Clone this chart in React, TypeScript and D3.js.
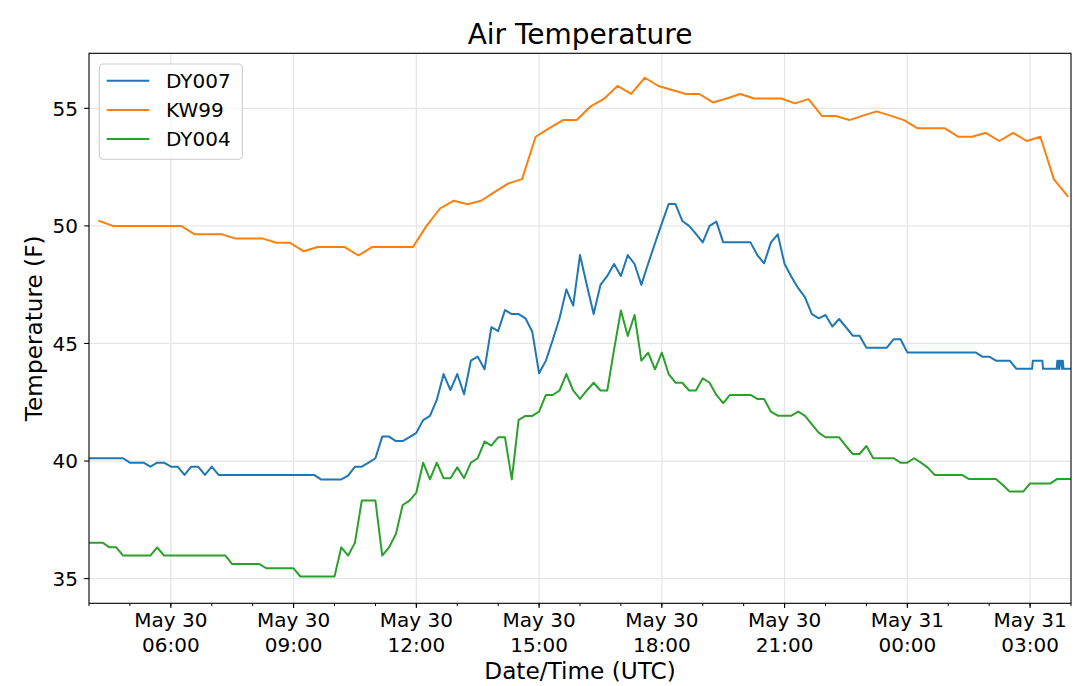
import React from 'react';
import * as d3 from 'd3';

const START = Date.UTC(2019, 4, 30, 4, 0);
const END = Date.UTC(2019, 4, 31, 4, 0);
const MINUTE = 60000;

const SERIES_NAMES = ['DY007', 'KW99', 'DY004'];
const SERIES_COLORS = ['#1f77b4', '#ff7f0e', '#2ca02c'];

// DY007: 10-minute readings from 04:00 UTC
const DY007_10MIN = [
  40.12, 40.12, 40.12, 40.12, 40.12, 40.12,
  39.93, 39.93, 39.93,
  39.76,
  39.93, 39.93,
  39.76, 39.76,
  39.41,
  39.76, 39.76,
  39.41,
  39.76,
  39.41, 39.41, 39.41, 39.41, 39.41, 39.41, 39.41, 39.41, 39.41, 39.41, 39.41, 39.41, 39.41, 39.41, 39.41,
  39.22, 39.22, 39.22, 39.22,
  39.38,
  39.76, 39.76,
  39.93,
  40.12,
  41.04, 41.04,
  40.85, 40.85,
  41.02, 41.2, 41.74, 41.92, 42.6,
  43.7, 43.02, 43.7, 42.84, 44.27, 44.44, 43.9, 45.69, 45.53, 46.42,
  46.25, 46.25, 46.07, 45.5, 43.73, 44.27, 45.15, 46.07, 47.3, 46.61,
  48.76, 47.49, 46.25, 47.49, 47.87, 48.38, 47.87, 48.76, 48.38, 47.49,
  48.4, 49.26, 50.11, 50.93, 50.93, 50.21, 50.0, 49.66, 49.3, 50.0,
  50.18, 49.3, 49.3, 49.3, 49.3, 49.3, 48.76, 48.41, 49.3, 49.64,
  48.38, 47.84, 47.35, 46.96, 46.25, 46.07, 46.21, 45.72, 46.04, 45.69,
  45.33, 45.33, 44.82, 44.82, 44.82, 44.82, 45.18, 45.18,
  44.62, 44.62, 44.62, 44.62, 44.62, 44.62, 44.62, 44.62, 44.62, 44.62, 44.62,
  44.44, 44.44,
  44.27, 44.27, 44.27,
  43.92, 43.92, 43.92,
];
// DY007 tail: finer readings (minutes after 04:00 UTC)
const DY007_TAIL_MINUTES = [1383, 1384, 1398, 1399, 1419, 1420, 1421, 1422, 1423, 1424, 1426, 1427, 1428, 1429, 1440];
const DY007_TAIL_VALUES = [43.92, 44.27, 44.27, 43.92, 43.92, 44.27, 43.92, 44.27, 43.92, 44.27, 44.27, 43.92, 44.27, 43.92, 43.92];

// KW99: 20-minute readings starting 04:15 UTC
const KW99_FIRST_MINUTE = 15;
const KW99_VALUES = [
  50.21,
  50.0, 50.0, 50.0, 50.0, 50.0, 50.0,
  49.64, 49.64, 49.64,
  49.46, 49.46, 49.46,
  49.28, 49.28,
  48.92,
  49.1, 49.1, 49.1,
  48.74,
  49.1, 49.1, 49.1, 49.1,
  50.0, 50.75, 51.07, 50.92, 51.07, 51.45, 51.81, 51.99, 53.79, 54.16,
  54.5, 54.5, 55.07, 55.4, 55.95, 55.61, 56.3, 55.95, 55.78, 55.61,
  55.61, 55.25, 55.42, 55.61, 55.42, 55.42, 55.42, 55.21, 55.39, 54.67,
  54.67, 54.5, 54.69, 54.87, 54.69, 54.5,
  54.15, 54.15, 54.15,
  53.79, 53.79,
  53.96, 53.61, 53.96, 53.61, 53.79, 51.98, 51.27,
];

// DY004: 10-minute readings from 04:00 UTC
const DY004_10MIN = [
  36.53, 36.53, 36.53,
  36.33, 36.33,
  35.98, 35.98, 35.98, 35.98, 35.98,
  36.33,
  35.98, 35.98, 35.98, 35.98, 35.98, 35.98, 35.98, 35.98, 35.98, 35.98,
  35.62, 35.62, 35.62, 35.62, 35.62,
  35.44, 35.44, 35.44, 35.44, 35.44,
  35.09, 35.09, 35.09, 35.09, 35.09, 35.09,
  36.33, 35.98, 36.53,
  38.32, 38.32, 38.32,
  35.98, 36.33, 36.9, 38.13, 38.32, 38.66, 39.93, 39.22, 39.93,
  39.27, 39.27, 39.73, 39.27, 39.93, 40.12, 40.83, 40.66, 41.01, 41.01,
  39.22, 41.75, 41.92, 41.92, 42.1, 42.81, 42.81, 43.0, 43.7, 43.0,
  42.64, 43.0, 43.33, 43.0, 43.0, 44.75, 46.4, 45.32, 46.21, 44.27,
  44.61, 43.9, 44.61, 43.7, 43.33, 43.33, 43.0, 43.0, 43.52, 43.33,
  42.81, 42.46, 42.81, 42.81, 42.81, 42.81, 42.64, 42.64, 42.1, 41.93,
  41.93, 41.93, 42.1, 41.92, 41.56, 41.21, 41.01, 41.01, 41.01, 40.64,
  40.3, 40.3, 40.64, 40.12, 40.12, 40.12, 40.12, 39.93, 39.93, 40.12,
  39.93, 39.72, 39.41, 39.41, 39.41, 39.41, 39.41, 39.24, 39.24, 39.24,
  39.24, 39.24, 38.98, 38.7, 38.7, 38.7, 39.05, 39.05, 39.05, 39.05,
  39.24, 39.24, 39.24,
];

const Y_TICKS = [35, 40, 45, 50, 55];
const Y_DOMAIN = [33.95, 57.34];

const TITLE = 'Air Temperature';
const X_LABEL = 'Date/Time (UTC)';
const Y_LABEL = 'Temperature (F)';

type Pt = { t: Date; v: number };

const W = 1080;
const H = 686;
const M = { left: 89, right: 1071, top: 53.3, bottom: 603.3 };
const FONT = '"DejaVu Sans", Verdana, sans-serif';

export default function App() {
  const x = d3.scaleUtc().domain([new Date(START), new Date(END)]).range([M.left, M.right]);
  const y = d3.scaleLinear().domain(Y_DOMAIN).range([M.bottom, M.top]);

  const dy007: Pt[] = DY007_10MIN.map((v, i) => ({ t: new Date(START + i * 10 * MINUTE), v })).concat(
    DY007_TAIL_MINUTES.map((m, i) => ({ t: new Date(START + m * MINUTE), v: DY007_TAIL_VALUES[i] }))
  );
  const kw99: Pt[] = KW99_VALUES.map((v, i) => ({ t: new Date(START + (KW99_FIRST_MINUTE + i * 20) * MINUTE), v }));
  const dy004: Pt[] = DY004_10MIN.map((v, i) => ({ t: new Date(START + i * 10 * MINUTE), v }));
  const seriesData = [dy007, kw99, dy004];

  const line = d3
    .line<Pt>()
    .x((d) => x(d.t))
    .y((d) => y(d.v));

  const majorTicks = x.ticks(d3.utcHour.every(3)!).filter((d) => d.getUTCHours() % 3 === 0);
  const minorTicks = x.ticks(d3.utcHour.every(1)!);
  const fmtDate = d3.utcFormat('%b %d');
  const fmtTime = d3.utcFormat('%H:%M');

  const legendRows = [80.7, 110, 139];

  return (
    <svg
      width={W}
      height={H}
      style={{ position: 'absolute', left: 0, top: 0, display: 'block', background: '#fff' }}
      fontFamily={FONT}
    >
      <rect x={0} y={0} width={W} height={H} fill="#fff" />
      {/* grid */}
      {majorTicks.map((d, i) => (
        <line key={'gx' + i} x1={x(d)} x2={x(d)} y1={M.top} y2={M.bottom} stroke="#e6e6e6" strokeWidth={1.3} />
      ))}
      {Y_TICKS.map((v) => (
        <line key={'gy' + v} x1={M.left} x2={M.right} y1={y(v)} y2={y(v)} stroke="#e6e6e6" strokeWidth={1.3} />
      ))}

      {/* series */}
      <defs>
        <clipPath id="plotclip">
          <rect x={M.left} y={M.top} width={M.right - M.left} height={M.bottom - M.top} />
        </clipPath>
      </defs>
      <g clipPath="url(#plotclip)">
        {seriesData.map((s, i) => (
          <path
            key={SERIES_NAMES[i]}
            d={line(s) || ''}
            fill="none"
            stroke={SERIES_COLORS[i]}
            strokeWidth={2}
            strokeLinejoin="round"
            strokeLinecap="square"
          />
        ))}
      </g>

      {/* spines */}
      <rect
        x={M.left}
        y={M.top}
        width={M.right - M.left}
        height={M.bottom - M.top}
        fill="none"
        stroke="#000"
        strokeWidth={1.1}
      />

      {/* x ticks */}
      {minorTicks.map((d, i) => (
        <line key={'mx' + i} x1={x(d)} x2={x(d)} y1={M.bottom} y2={M.bottom + 2.8} stroke="#000" strokeWidth={1} />
      ))}
      {majorTicks.map((d, i) => (
        <g key={'tx' + i}>
          <line x1={x(d)} x2={x(d)} y1={M.bottom} y2={M.bottom + 4.8} stroke="#000" strokeWidth={1.1} />
          <text x={x(d)} y={627.3} textAnchor="middle" fontSize={20} fill="#000">
            {fmtDate(d)}
          </text>
          <text x={x(d)} y={651.7} textAnchor="middle" fontSize={20} fill="#000">
            {fmtTime(d)}
          </text>
        </g>
      ))}

      {/* y ticks */}
      {Y_TICKS.map((v) => (
        <g key={'ty' + v}>
          <line x1={M.left - 4.8} x2={M.left} y1={y(v)} y2={y(v)} stroke="#000" strokeWidth={1.1} />
          <text x={78} y={y(v)} dy="0.36em" textAnchor="end" fontSize={20} fill="#000">
            {v}
          </text>
        </g>
      ))}

      {/* labels */}
      <text x={(M.left + M.right) / 2} y={44.3} textAnchor="middle" fontSize={28} fill="#000">
        {TITLE}
      </text>
      <text x={(M.left + M.right) / 2} y={679} textAnchor="middle" fontSize={23.2} fill="#000">
        {X_LABEL}
      </text>
      <text
        transform={`translate(42,${(M.top + M.bottom) / 2}) rotate(-90)`}
        textAnchor="middle"
        fontSize={23.2}
        fill="#000"
      >
        {Y_LABEL}
      </text>

      {/* legend */}
      <rect x={99.3} y={64} width={143} height={95.3} rx={4} ry={4} fill="#fff" fillOpacity={0.8} stroke="#cccccc" strokeWidth={1.1} />
      {SERIES_NAMES.map((name, i) => (
        <g key={'lg' + name}>
          <line x1={106.7} x2={149.3} y1={legendRows[i]} y2={legendRows[i]} stroke={SERIES_COLORS[i]} strokeWidth={2} />
          <text x={166} y={legendRows[i]} dy="0.36em" fontSize={20} fill="#000">
            {name}
          </text>
        </g>
      ))}
    </svg>
  );
}
